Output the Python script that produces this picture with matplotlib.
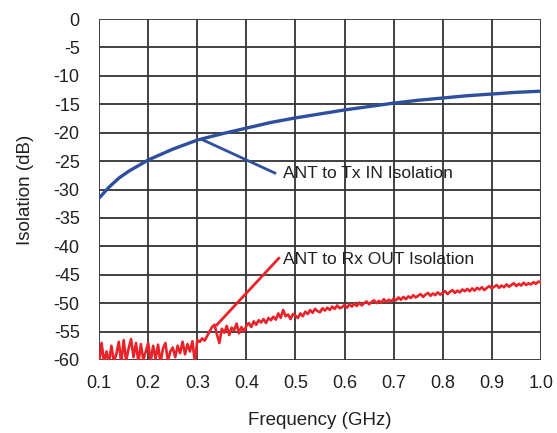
import numpy as np
import matplotlib
matplotlib.use('Agg')
import matplotlib.pyplot as plt

plt.rcParams['font.family'] = ['Liberation Sans', 'DejaVu Sans']
plt.rcParams['axes.unicode_minus'] = False

# ANT to Tx IN isolation (smooth curve)
tx_freq = [0.10, 0.12, 0.14, 0.16, 0.18, 0.20, 0.25, 0.30, 0.35, 0.40, 0.45,
           0.50, 0.55, 0.60, 0.65, 0.70, 0.75, 0.80, 0.85, 0.90, 0.95, 1.00]
tx_db = [-31.5, -29.6, -28.0, -26.8, -25.8, -24.8, -22.9, -21.3, -20.2, -19.2, -18.2,
         -17.4, -16.7, -16.0, -15.4, -14.8, -14.3, -13.9, -13.5, -13.2, -12.9, -12.7]

# ANT to Rx OUT isolation (noisy trace, 0.1 .. 1.0 GHz every 5 MHz)
rx_db = [
    -60.5, -57.0, -60.5, -58.5, -60.5, -57.5, -60.3, -59.0, -56.8, -60.5,
    -56.5, -60.2, -58.0, -56.3, -59.5, -57.0, -60.4, -57.2, -60.0, -58.5,
    -57.0, -60.3, -57.5, -59.8, -57.3, -60.5, -58.0, -57.0, -60.2, -58.5,
    -57.8, -59.5, -57.5, -58.8, -56.8, -59.0, -57.2, -58.5, -56.7, -60.4,
    -56.5,
    -56.8, -56.2, -56.6, -55.8, -55.0, -54.2, -53.8, -55.5, -57.0, -54.5,
    -55.2, -54.0, -55.6, -54.3, -54.8, -53.6, -55.3, -54.2, -55.0, -54.0,
    -53.5, -54.2, -53.2, -53.8, -53.0, -53.4, -52.8, -53.5, -52.6, -53.0,
    -52.4, -52.9, -51.8, -52.6, -51.2, -52.3, -52.0, -52.8, -51.9, -52.2,
    -52.6, -51.8, -52.3, -51.5, -51.9, -51.2, -51.7, -51.0, -51.4, -51.6,
    -50.9, -51.3, -50.8, -51.2, -50.6, -51.0, -50.4, -50.9, -50.7, -50.3,
    -50.8, -50.2, -50.6, -50.1, -50.5, -49.9, -50.4, -50.0, -49.7, -50.2,
    -49.8, -49.5, -50.0, -49.6, -49.9, -49.3, -49.8, -49.4, -49.7, -49.2,
    -49.5, -49.0, -49.4, -48.9, -49.3, -48.8, -49.1, -48.6, -49.0, -48.7,
    -48.4, -48.9, -48.5, -48.2, -48.7, -48.3, -48.6, -48.1, -48.5, -48.2,
    -47.9, -48.4, -48.0, -47.7, -48.2, -47.8, -48.1, -47.6, -47.9, -47.5,
    -47.9, -47.4, -47.8, -47.3, -47.6, -47.2, -47.7, -47.3, -47.0, -47.4,
    -47.1, -46.8, -47.3, -46.9, -47.2, -46.7, -47.1, -46.8, -46.5, -47.0,
    -46.6, -46.9, -46.4, -46.8, -46.5, -46.7, -46.3, -46.6, -46.2, -46.4,
]
rx_freq = np.linspace(0.1, 1.0, len(rx_db))

x_ticks = [0.1, 0.2, 0.3, 0.4, 0.5, 0.6, 0.7, 0.8, 0.9, 1.0]
y_ticks = [0, -5, -10, -15, -20, -25, -30, -35, -40, -45, -50, -55, -60]

blue = '#2f4f9e'
red = '#e8232a'
grid_c = '#333333'
txt_c = '#231f20'

fig = plt.figure(figsize=(5.57, 4.33), dpi=100)
ax = fig.add_axes([0.178, 0.1686, 0.793, 0.7875])

ax.plot(tx_freq, tx_db, color=blue, lw=2.4, zorder=3)
ax.plot(rx_freq, rx_db, color=red, lw=1.9, zorder=3)

# callouts
ax.plot([0.312, 0.458], [-21.3, -27.1], color=blue, lw=2, zorder=3)
ax.text(0.475, -27.1, 'ANT to Tx IN Isolation', fontsize=12.5, va='center', ha='left', color=txt_c)
ax.plot([0.340, 0.466], [-53.8, -42.1], color=red, lw=2, zorder=3)
ax.text(0.475, -42.3, 'ANT to Rx OUT Isolation', fontsize=12.5, va='center', ha='left', color=txt_c)

ax.set_xlim(0.1, 1.0)
ax.set_ylim(-60, 0)
ax.set_xticks(x_ticks)
ax.set_xticklabels(['%.1f' % v for v in x_ticks])
ax.set_yticks(y_ticks)
ax.tick_params(length=0, labelsize=13, colors=txt_c)
ax.tick_params(axis='y', pad=14)
ax.tick_params(axis='x', pad=11)
ax.grid(True, color=grid_c, lw=1.3, zorder=1)
for s in ax.spines.values():
    s.set_visible(False)
ax.set_axisbelow(True)

ax.set_xlabel('Frequency (GHz)', fontsize=13.5, color=txt_c, labelpad=14)
ax.set_ylabel('Isolation (dB)', fontsize=13.5, color=txt_c, labelpad=14)

fig.savefig('out.png', dpi=100)
